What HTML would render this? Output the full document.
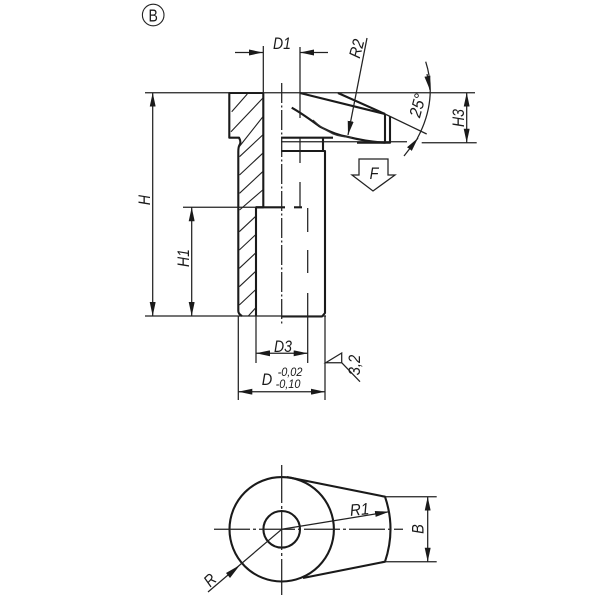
<!DOCTYPE html>
<html><head><meta charset="utf-8"><style>html,body{margin:0;padding:0;background:#fff}svg{display:block}text{font-family:"Liberation Sans",sans-serif;font-style:italic;fill:#1a1a1a;font-size:16.5px;text-anchor:middle}</style></head>
<body>
<svg width="600" height="600" viewBox="0 0 600 600" xmlns="http://www.w3.org/2000/svg">
<rect width="600" height="600" fill="#fff"/>
<defs>
<marker id="a" viewBox="0 0 14 6" refX="14" refY="3" markerWidth="14" markerHeight="6" markerUnits="userSpaceOnUse" orient="auto-start-reverse"><path d="M0 0L14 3L0 6Z" fill="#1a1a1a"/></marker>
</defs>
<!-- B circle -->
<circle cx="153.2" cy="15" r="10.8" fill="none" stroke="#222" stroke-width="1.1"/>
<text transform="translate(153.2,21.5) scale(.78,1)" style="font-style:normal;font-size:18px">B</text>

<!-- thick outlines -->
<g fill="none" stroke="#1a1a1a" stroke-width="2.1" stroke-linejoin="round">
<path d="M263.3 93H229.3V137.7H239Q241.5 142 239.5 145Q238.3 147 238.3 152V311Q238.3 314 242 316"/>
<path d="M263.3 93V207.3H256V316"/>
<path d="M256 207.3H285"/>
<path d="M294 207.3H302"/>
<path d="M281 137.7H333"/>
<path d="M281 151H325V313L322 316.5H281"/>
<path d="M323 138V151"/>
<path d="M300 93L385 114"/>
<path d="M338 93L385 114"/>
<path d="M385 114V142.7H357"/>
<path d="M390 116V142.7H385"/>
<path d="M291.7 107.7C303 114 312 121 320 126.7C330 132 340 135.5 347 136.7C360 140 372 142 385 142.7"/>
<circle cx="281.7" cy="529.3" r="52.2"/>
<circle cx="281.7" cy="529.3" r="18.3"/>
<path d="M287 477L385 496.7Q396 529 385 561.7L303 578"/>
</g>
<!-- thin curve -->
<path d="M313 120C320 127 327 131 333 134C339 136.5 345 137 352 137.5" fill="none" stroke="#333" stroke-width="1.1"/>

<!-- hatching -->
<g stroke="#222" stroke-width="1.1" fill="none">
<path d="M231.7 111.7L247.3 94M231 131.7L262.7 98.3M239 147L262.7 117M239.5 156.7L262.7 135M239.5 175L262.7 153.3M239.5 193.3L262.7 171.7M239.5 210L262.7 190"/>
<path d="M239.3 231.7L255.3 216.7M239.3 250L255.3 235M239.3 268.3L255.3 253.3M239.3 286.7L255.3 271.7M239.3 305L255.3 290M248.3 316L255.3 308.3"/>
</g>

<!-- thin lines -->
<g stroke="#222" stroke-width="1.25" fill="none">
<path d="M145 92.7H475"/>
<path d="M281 141.7H407M421.7 142.7H476.7"/>
<path d="M145 316H326"/>
<path d="M183 207.3H256"/>
<path d="M263.3 46V93"/>
<path d="M300 47V118M300 138V163M300 182V207"/>
<path d="M307.7 208V232M307.7 250V273M307.7 293V363"/>
<path d="M256 316V363"/>
<path d="M238.3 316V400M325 316V400"/>
<path d="M385 114L426.7 134"/>
<path d="M281.7 83V325" stroke-dasharray="20 2.5 2 2.5"/>
<path d="M341.7 353L325.7 362.7H341.7ZM341.7 362.7L360 381.7"/>
<path d="M385 496.7H436.7M385 561.7H436.7"/>
<path d="M214 529.3H403" stroke-dasharray="36 3 3 3"/>
<path d="M281.7 465V595" stroke-dasharray="38 3 3 3"/>
<path d="M425.7 61.7Q438 100 417 139"/>
</g>

<!-- dimensions with arrows -->
<g stroke="#222" stroke-width="1.25" fill="none">
<path d="M235 52.5H263" marker-end="url(#a)"/>
<path d="M328 52.5H300" marker-end="url(#a)"/>
<path d="M367 38L348 135" marker-end="url(#a)"/>
<path d="M404 156L418 138" marker-end="url(#a)"/>
<path d="M427 74L430 90" marker-end="url(#a)"/>
<path d="M466.7 92.7V142.7" marker-start="url(#a)" marker-end="url(#a)"/>
<path d="M152.7 92.7V316" marker-start="url(#a)" marker-end="url(#a)"/>
<path d="M191.7 207.3V316" marker-start="url(#a)" marker-end="url(#a)"/>
<path d="M256 353.3H307.7" marker-start="url(#a)" marker-end="url(#a)"/>
<path d="M238.3 391.7H325" marker-start="url(#a)" marker-end="url(#a)"/>
<path d="M281.7 529.3L389 511.7" marker-end="url(#a)"/>
<path d="M281.7 529.3L208 592"/>
<path d="M427.7 496.7V561.7" marker-start="url(#a)" marker-end="url(#a)"/>
</g>
<path d="M240 565L226 573L230 578Z" fill="#1a1a1a"/>

<!-- F arrow -->
<path d="M359 159H388V175H395L373 191L352 175H359Z" fill="#fff" stroke="#222" stroke-width="1.25"/>

<!-- labels -->
<text transform="translate(282,49) scale(.85,1)">D1</text>
<text transform="translate(362,50) rotate(-75) scale(.88,1)">R2</text>
<text transform="translate(423,107) rotate(-75) scale(.95,1)">25°</text>
<text transform="translate(464,118) rotate(-90) scale(.85,1)">H3</text>
<text transform="translate(374,179) scale(.85,1)" style="font-size:17px">F</text>
<text transform="translate(150,200) rotate(-90) scale(.85,1)">H</text>
<text transform="translate(189,258) rotate(-90) scale(.85,1)">H1</text>
<text transform="translate(283,352) scale(.85,1)">D3</text>
<text transform="translate(267,385) scale(.88,1)">D</text>
<text transform="translate(290,376) scale(.95,1)" style="font-size:11.5px">-0,02</text>
<text transform="translate(288,388) scale(.95,1)" style="font-size:11.5px">-0,10</text>
<text transform="translate(360,365) rotate(-90) scale(.9,1)">3,2</text>
<text transform="translate(360,515) rotate(-5) scale(.92,1)">R1</text>
<text transform="translate(214,584) rotate(-45) scale(.88,1)">R</text>
<text transform="translate(423.5,529) rotate(-90) scale(.88,1)">B</text>
</svg>
</body></html>
